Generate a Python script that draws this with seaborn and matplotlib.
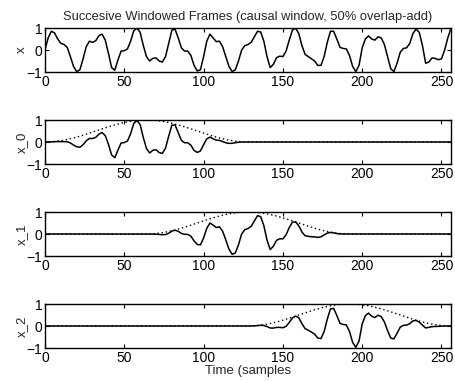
import numpy as np
import pandas as pd
import matplotlib
matplotlib.use("Agg")
import matplotlib.pyplot as plt
import seaborn as sns

# ---------------- data ----------------
sample_step = 2
# signal x, sampled every 2 samples from 0 to 256
x_signal = [
    0.02, 0.55, 0.85, 0.78, 0.50, 0.30, 0.25, 0.12, -0.30, -0.75,      # 0..18
    -0.98, -0.90, -0.40, 0.15, 0.40, 0.35, 0.42, 0.65, 0.72, 0.45,     # 20..38
    -0.15, -0.80, -0.92, -0.45, -0.05, -0.03, 0.05, 0.40, 0.88, 1.00,  # 40..58
    0.80, 0.20, -0.30, -0.50, -0.38, -0.36, -0.50, -0.55, -0.30, 0.30, # 60..78
    0.90, 0.95, 0.55, 0.10, -0.05, -0.05, -0.25, -0.70, -0.95, -0.90,  # 80..98
    -0.30, 0.40, 0.72, 0.55, 0.38, 0.40, 0.15, -0.30, -0.75, -0.98,    # 100..118
    -0.90, -0.50, 0.00, 0.20, 0.25, 0.35, 0.60, 0.85, 0.82, 0.40,      # 120..138
    -0.30, -0.80, -0.65, -0.35, -0.28, -0.30, -0.05, 0.45, 0.90, 1.00, # 140..158
    0.75, 0.20, -0.20, -0.30, -0.40, -0.50, -0.70, -0.70, -0.30, 0.35, # 160..178
    0.85, 0.85, 0.50, 0.12, 0.07, 0.05, -0.25, -0.75, -0.98, -0.70,    # 180..198
    0.10, 0.50, 0.64, 0.50, 0.45, 0.60, 0.55, 0.25, -0.30, -0.85,      # 200..218
    -0.98, -0.60, -0.10, 0.07, 0.10, 0.30, 0.75, 0.95, 0.80, 0.20,     # 220..238
    -0.60, -0.55, -0.36, -0.38, -0.44, -0.40, 0.00, 0.55, 1.00,        # 240..256
]
# rising half of the (dotted) window, every 2 samples, 0..64
window_half = [
    0.000, 0.002, 0.010, 0.022, 0.038, 0.059, 0.084, 0.114, 0.146, 0.183,
    0.222, 0.264, 0.309, 0.355, 0.402, 0.451, 0.500, 0.549, 0.598, 0.645,
    0.691, 0.736, 0.778, 0.817, 0.854, 0.886, 0.916, 0.941, 0.962, 0.979,
    0.990, 0.998, 1.000,
]
frame_starts = [0, 64, 128]
panel_labels = ["x", "x_0", "x_1", "x_2"]
title_text = "Succesive Windowed Frames (causal window, 50% overlap-add)"
xlabel_text = "Time (samples"
x_ticks = [0, 50, 100, 150, 200, 250]
y_ticks = [-1, 0, 1]

# ---------------- build series ----------------
n = np.arange(len(x_signal)) * sample_step
xs = np.array(x_signal)
win = np.array(window_half + window_half[-2::-1])

frames = []
for start in frame_starts:
    w = np.zeros_like(xs)
    i0 = start // sample_step
    w[i0:i0 + len(win)] = win[: len(w) - i0]
    frames.append((xs * w, w))

# ---------------- plot ----------------
sns.set_style("ticks")
plt.rcParams["font.family"] = ["Liberation Sans", "DejaVu Sans"]
plt.rcParams.update({
    "xtick.direction": "in", "ytick.direction": "in",
    "xtick.top": True, "ytick.right": True,
    "xtick.major.size": 3, "ytick.major.size": 3,
    "xtick.major.width": 0.8, "ytick.major.width": 0.8,
    "axes.linewidth": 1.0, "axes.edgecolor": "black",
    "xtick.color": "black", "ytick.color": "black",
    "xtick.labelsize": 10, "ytick.labelsize": 10,
    "axes.labelsize": 9.5,
    "xtick.major.pad": 2.0, "ytick.major.pad": 2.0,
})

W, H = 456, 381
fig = plt.figure(figsize=(W / 100, H / 100), dpi=100)
left, right = 45, 451
tops = [28, 120, 212, 304]
hgt = 44
axes = []
for t in tops:
    ax = fig.add_axes([left / W, 1 - (t + hgt) / H, (right - left) / W, hgt / H])
    axes.append(ax)

df = pd.DataFrame({"n": n, "x": xs})
sns.lineplot(data=df, x="n", y="x", ax=axes[0], color="black", linewidth=1.1)

for ax, (fx, w) in zip(axes[1:], frames):
    d = pd.DataFrame({"n": n, "frame": fx, "window": w})
    sns.lineplot(data=d, x="n", y="window", ax=ax, color="black",
                 linewidth=1.0, linestyle=(0, (1, 2)))
    sns.lineplot(data=d, x="n", y="frame", ax=ax, color="black", linewidth=1.1)

for ax, lab in zip(axes, panel_labels):
    ax.set_xlim(0, 256)
    ax.set_ylim(-1, 1)
    ax.set_xticks(x_ticks)
    ax.set_yticks(y_ticks)
    ax.set_ylabel(lab, labelpad=-1)
    ax.set_xlabel("")

axes[0].set_title(title_text, fontsize=9.3, pad=6)
axes[-1].set_xlabel(xlabel_text, labelpad=0)

fig.savefig("out.png", dpi=100)
